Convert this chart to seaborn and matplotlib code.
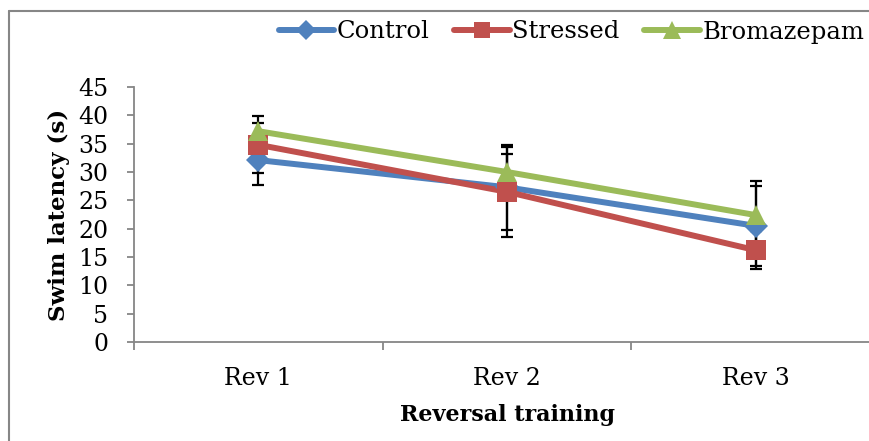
import numpy as np
import pandas as pd
import matplotlib
matplotlib.use("Agg")
import matplotlib.pyplot as plt
import seaborn as sns

# Swim latency per reversal-training session (mean ± SD)
sessions = ["Rev 1", "Rev 2", "Rev 3"]
groups = ["Control", "Stressed", "Bromazepam"]
control_mean = [32.1, 27.3, 20.5]
stressed_mean = [34.8, 26.5, 16.2]
bromazepam_mean = [37.2, 30.0, 22.4]
control_sd = [4.4, 7.5, 7.1]
stressed_sd = [5.0, 8.0, 3.4]
bromazepam_sd = [1.4, 3.1, 6.0]

y_ticks = list(range(0, 50, 5))

colors = ["#4F81BD", "#C0504D", "#9BBB59"]
markers = ["D", "s", "^"]
msizes = [12, 14, 15]

means = [control_mean, stressed_mean, bromazepam_mean]
sds = [control_sd, stressed_sd, bromazepam_sd]

df = pd.DataFrame({
    "pos": np.tile(np.arange(len(sessions)), len(groups)),
    "session": sessions * len(groups),
    "group": np.repeat(groups, len(sessions)),
    "latency": np.concatenate(means),
})

sns.set_style("white")
plt.rcParams["font.family"] = ["DejaVu Serif"]
plt.rcParams["text.color"] = "black"
plt.rcParams["axes.labelcolor"] = "black"
plt.rcParams["xtick.color"] = "black"
plt.rcParams["ytick.color"] = "black"

fig = plt.figure(figsize=(8.69, 4.41), dpi=100)
ax = fig.add_axes([134 / 869, 1 - 342 / 441, (880 - 134) / 869, (342 - 87) / 441])

# error bars sit beneath the lines and markers
for m, s in zip(means, sds):
    ax.errorbar(np.arange(len(sessions)), m, yerr=s, fmt="none", ecolor="black",
                elinewidth=1.6, capsize=4.5, capthick=1.6, zorder=1)

sns.lineplot(data=df, x="pos", y="latency", hue="group", hue_order=groups,
             palette=colors, linewidth=4.3, legend=False, ax=ax, zorder=2)
for i, (m, c, mk, ms) in enumerate(zip(means, colors, markers, msizes)):
    ax.plot(np.arange(len(sessions)), m, linestyle="none", marker=mk, color=c,
            markersize=ms, markeredgewidth=0, zorder=3 + i)

ax.set_xlim(-0.5, 2.5)
ax.set_ylim(0, 45)
ax.set_yticks(y_ticks)
ax.set_yticklabels([str(t) for t in y_ticks], fontsize=17)
ax.set_xticks(range(len(sessions)))
ax.set_xticklabels(sessions, fontsize=17)
ax.set_xticks([-0.5, 0.5, 1.5, 2.5], minor=True)
ax.tick_params(axis="x", which="major", bottom=True, length=0, pad=18)
ax.tick_params(axis="x", which="minor", bottom=True, length=6, width=1.3,
               color="#868686", direction="out")
ax.tick_params(axis="y", which="major", left=True, length=5, width=1.3,
               color="#868686", labelcolor="black", direction="out", pad=13.5)

for side in ["top", "right"]:
    ax.spines[side].set_visible(False)
for side in ["left", "bottom"]:
    ax.spines[side].set_color("#868686")
    ax.spines[side].set_linewidth(1.3)

ax.set_xlabel("Reversal training", fontsize=16, fontweight="bold", labelpad=10)
ax.set_ylabel("Swim latency (s)", fontsize=16.5, fontweight="bold", labelpad=6)

handles = [plt.Line2D([], [], color=c, marker=mk, markersize=ms * 0.85, linewidth=4.3,
                      markeredgewidth=0) for c, mk, ms in zip(colors, markers, msizes)]
fig.legend(handles, groups, loc="center right", bbox_to_anchor=(1.0, 1 - 32 / 441),
           ncol=3, frameon=False, fontsize=17.5, handlelength=2.3, handletextpad=0.1,
           columnspacing=1.0, borderaxespad=0.1, borderpad=0.1)

# outer chart frame (top and left edges)
fig.add_artist(plt.Line2D([9 / 869, 1.02], [1 - 11 / 441, 1 - 11 / 441],
                          color="#868686", linewidth=1.5))
fig.add_artist(plt.Line2D([9 / 869, 9 / 869], [-0.02, 1 - 11 / 441],
                          color="#868686", linewidth=1.5))

fig.savefig("out.png", dpi=100)
